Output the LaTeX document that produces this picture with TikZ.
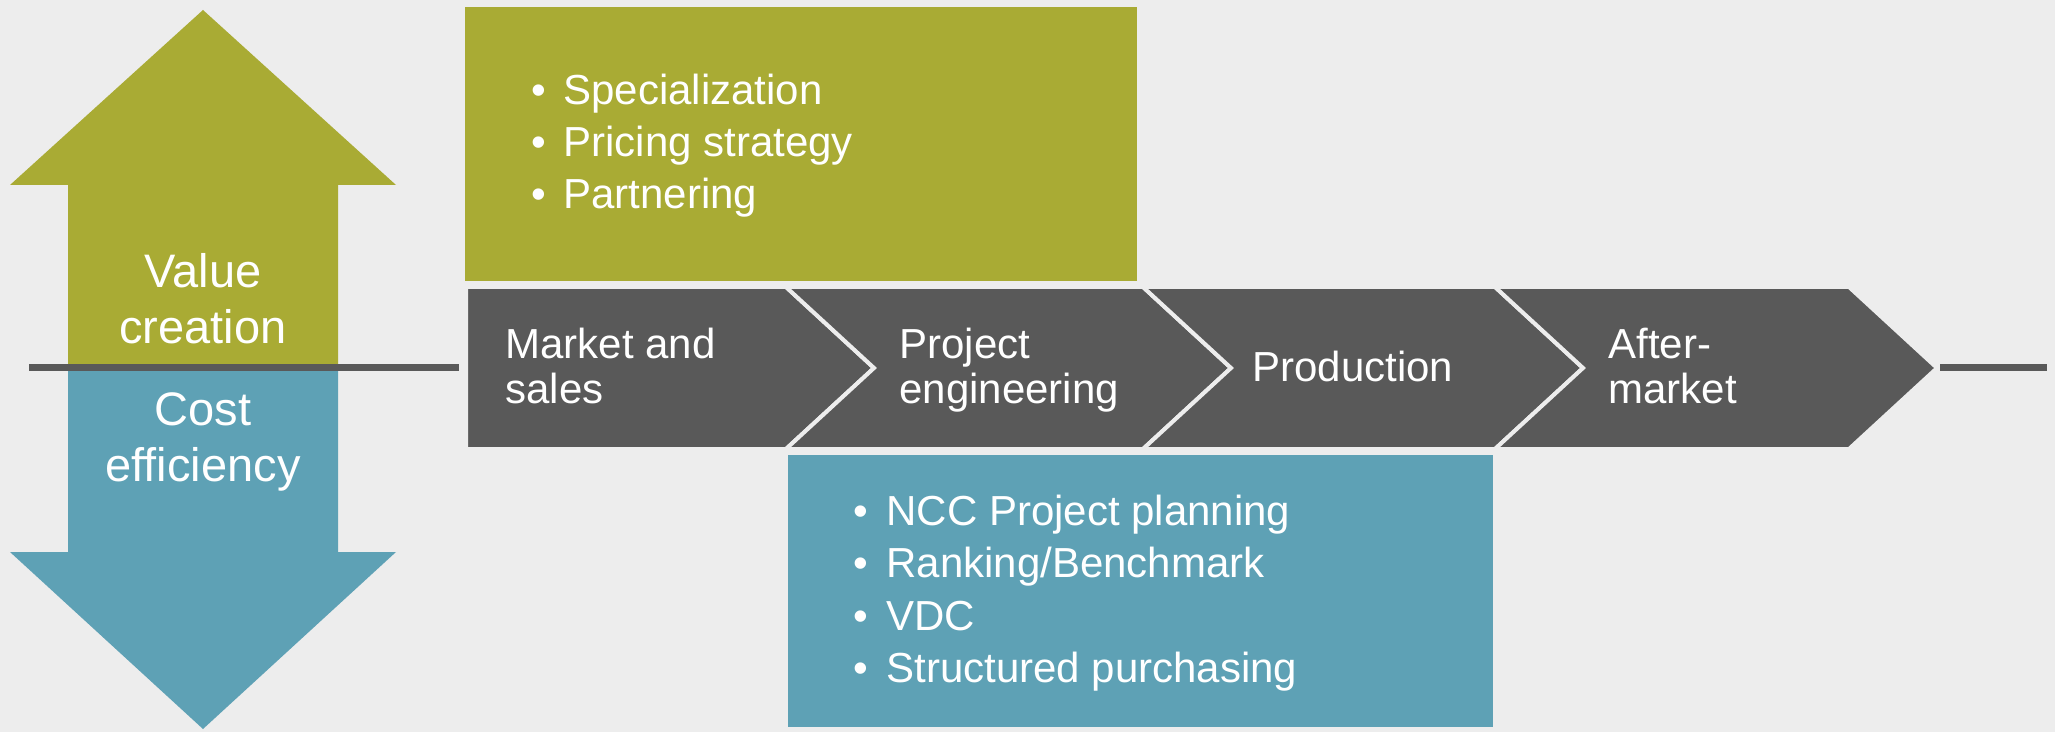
\documentclass[tikz,border=0pt]{standalone}
\usepackage{fontspec}
\setmainfont{Liberation Sans}
\definecolor{bg}{HTML}{EDEDED}
\definecolor{olive}{HTML}{A9AB34}
\definecolor{teal}{HTML}{5EA1B5}
\definecolor{darkg}{HTML}{595959}
\begin{document}
\begin{tikzpicture}[x=0.5pt,y=-0.5pt,
  lbl/.style={text=white,font=\fontsize{21}{25}\selectfont,inner sep=0pt,anchor=base west},
  biglbl/.style={text=white,font=\fontsize{23.5}{28}\selectfont,inner sep=0pt,anchor=base},
  chev/.style={fill=darkg,draw=bg,line width=2pt,line join=miter},
  axis/.style={darkg,line width=3.5pt}]
\fill[bg] (0,0) rectangle (2055,732);
\useasboundingbox (0,0) rectangle (2055,732);
% arrows
\fill[olive] (203,10) -- (396,185) -- (338,185) -- (338,368) -- (68,368) -- (68,185) -- (10,185) -- cycle;
\fill[teal] (68,368) -- (338,368) -- (338,552) -- (396,552) -- (203,729) -- (10,552) -- (68,552) -- cycle;
% axis line
\coordinate (la) at (29,368);
\coordinate (lb) at (459,368);
\coordinate (lc) at (1940,368);
\coordinate (ld) at (2047,368);
\draw[axis] (la) -- (lb);
\draw[axis] (lc) -- (ld);
% boxes
\fill[olive] (465,7) rectangle (1137,281);
\fill[teal] (788,455) rectangle (1493,727);
% chevrons
\draw[chev] (466,287) -- (786,287) -- (874,368) -- (786,449) -- (466,449) -- cycle;
\draw[chev] (786,287) -- (1143,287) -- (1231,368) -- (1143,449) -- (786,449) -- (874,368) -- cycle;
\draw[chev] (1143,287) -- (1495,287) -- (1583,368) -- (1495,449) -- (1143,449) -- (1231,368) -- cycle;
\draw[chev] (1495,287) -- (1849,287) -- (1937,368) -- (1849,449) -- (1495,449) -- (1583,368) -- cycle;
% arrow labels
\node[biglbl] (v1) at (203,288) {Value};
\node[biglbl] (v2) at (203,344) {creation};
\node[biglbl] (c1) at (203,425) {Cost};
\node[biglbl] (c2) at (203,481) {efficiency};
% chevron labels
\node[lbl] (m1) at (505,359) {Market and};
\node[lbl] (m2) at (505,403) {sales};
\node[lbl] (p1) at (899,359) {Project};
\node[lbl] (p2) at (899,403) {engineering};
\node[lbl] (pr) at (1252,382) {Production};
\node[lbl] (a1) at (1608,359) {After-};
\node[lbl] (a2) at (1608,403) {market};
% green bullets
\node[lbl] (gb1) at (531,105) {•};
\node[lbl] (g1) at (563,105) {Specialization};
\node[lbl] (gb2) at (531,157) {•};
\node[lbl] (g2) at (563,157) {Pricing strategy};
\node[lbl] (gb3) at (531,209) {•};
\node[lbl] (g3) at (563,209) {Partnering};
% blue bullets
\node[lbl] (bb1) at (853,525) {•};
\node[lbl] (b1) at (886,525) {NCC Project planning};
\node[lbl] (bb2) at (853,577) {•};
\node[lbl] (b2) at (886,577) {Ranking/Benchmark};
\node[lbl] (bb3) at (853,630) {•};
\node[lbl] (b3) at (886,630) {VDC};
\node[lbl] (bb4) at (853,682) {•};
\node[lbl] (b4) at (886,682) {Structured purchasing};
\end{tikzpicture}
\end{document}
